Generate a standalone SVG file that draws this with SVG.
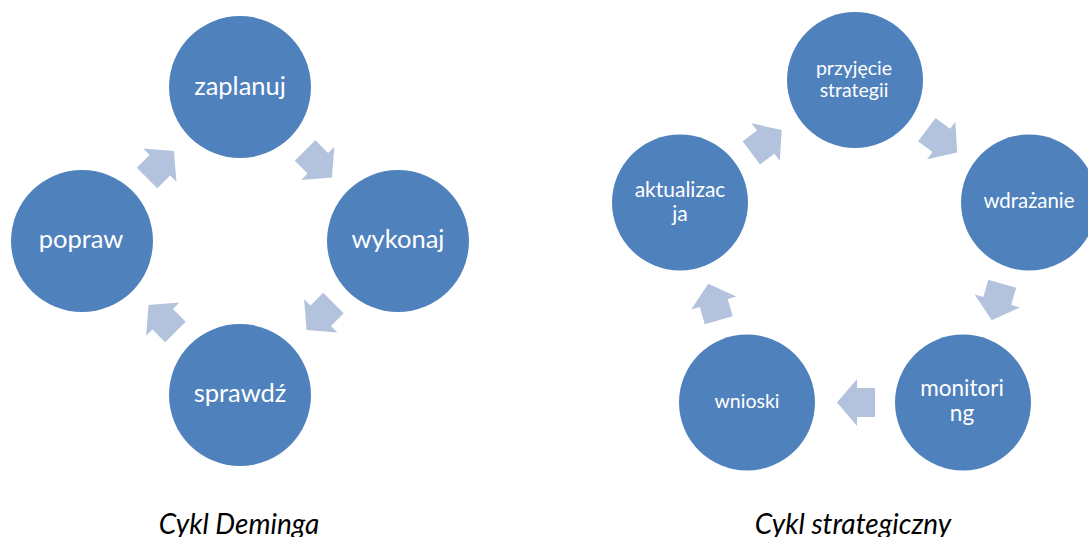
<svg xmlns="http://www.w3.org/2000/svg" width="1088" height="537" viewBox="0 0 1088 537">
<style>
.node{fill:#4F81BD}
.lbl{fill:#FFFFFF;font-family:Lato,"Liberation Sans",sans-serif;text-anchor:middle}
.arr{fill:#B3C3DE}
.cap{fill:#000000;font-family:Lato,"Liberation Sans",sans-serif;font-style:italic;font-size:28px;text-anchor:middle}
</style>
<defs>
<path id="ba" d="M -19,-14.5 H -1 V -23.5 L 19,0 L -1,23.5 V 14.5 H -19 Z"/>
</defs>
<rect width="1088" height="537" fill="#FFFFFF"/>
<g id="connectors">
<use href="#ba" class="arr" transform="translate(318.5,164) rotate(45)"/>
<use href="#ba" class="arr" transform="translate(320,316.5) rotate(135)"/>
<use href="#ba" class="arr" transform="translate(162,318.5) rotate(225)"/>
<use href="#ba" class="arr" transform="translate(160.5,164.5) rotate(-45)"/>
<use href="#ba" class="arr" transform="translate(766.5,141.5) rotate(-37)"/>
<use href="#ba" class="arr" transform="translate(942,141) rotate(37)"/>
<use href="#ba" class="arr" transform="translate(997,302) rotate(106)"/>
<use href="#ba" class="arr" transform="translate(856,402.5) rotate(180)"/>
<use href="#ba" class="arr" transform="translate(713.5,302) rotate(-106)"/>
</g>
<g id="zaplanuj"><circle class="node" cx="240" cy="87" r="71"/><text class="lbl" x="240" y="95" font-size="25.5">zaplanuj</text></g>
<g id="wykonaj"><circle class="node" cx="398" cy="241" r="71"/><text class="lbl" x="398" y="248" font-size="25.5">wykonaj</text></g>
<g id="sprawdz"><circle class="node" cx="240" cy="395" r="71"/><text class="lbl" x="240" y="402" font-size="25.5">sprawdź</text></g>
<g id="popraw"><circle class="node" cx="82" cy="241" r="71"/><text class="lbl" x="81" y="248" font-size="25.5">popraw</text></g>
<g id="przyjecie"><circle class="node" cx="855" cy="80" r="68"/><text class="lbl" x="854" y="75" font-size="19.5">przyjęcie</text><text class="lbl" x="854" y="97" font-size="19.5">strategii</text></g>
<g id="wdrazanie"><circle class="node" cx="1029" cy="202.5" r="68"/><text class="lbl" x="1029" y="208" font-size="20.4">wdrażanie</text></g>
<g id="monitoring"><circle class="node" cx="963" cy="402.5" r="68"/><text class="lbl" x="962" y="396" font-size="22.5">monitori</text><text class="lbl" x="962" y="421" font-size="22.5">ng</text></g>
<g id="wnioski"><circle class="node" cx="747" cy="402.5" r="68"/><text class="lbl" x="747" y="408" font-size="19.5">wnioski</text></g>
<g id="aktualizacja"><circle class="node" cx="680" cy="202.5" r="68"/><text class="lbl" x="680" y="197" font-size="21">aktualizac</text><text class="lbl" x="680" y="221" font-size="21">ja</text></g>
<g id="captions">
<text class="cap" x="239" y="534">Cykl Deminga</text>
<text class="cap" x="853" y="534">Cykl strategiczny</text>
</g>
</svg>
